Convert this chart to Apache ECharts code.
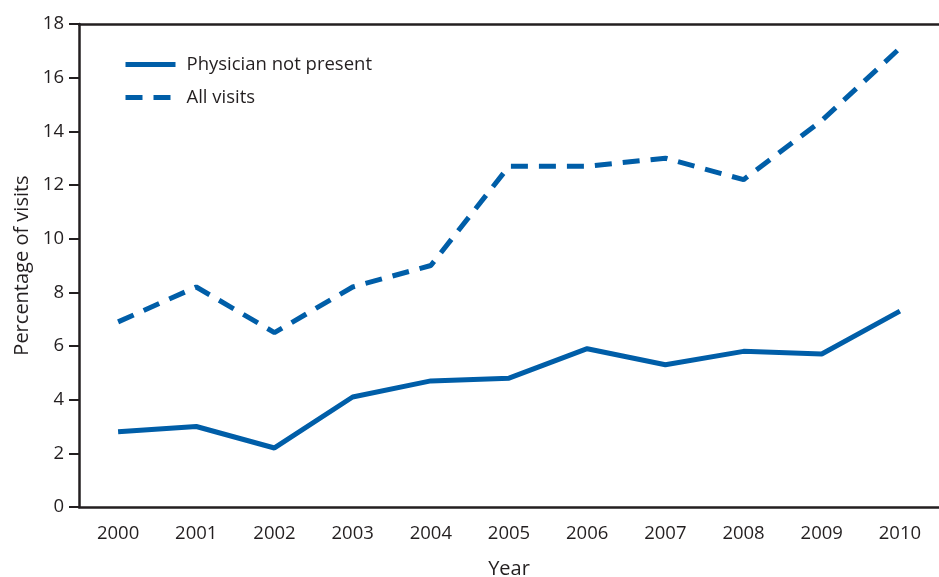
<!DOCTYPE html>
<html><head><meta charset="utf-8">
<script src="https://cdn.jsdelivr.net/npm/echarts@6/dist/echarts.min.js"></script>
<style>html,body{margin:0;padding:0;background:#fff}#c{width:939px;height:577px}</style>
</head><body><div id="c"></div>
<script>
const years = ['2000','2001','2002','2003','2004','2005','2006','2007','2008','2009','2010'];
const physicianNotPresent = [2.8, 3.0, 2.2, 4.1, 4.7, 4.8, 5.9, 5.3, 5.8, 5.7, 7.3];
const allVisits = [6.9, 8.2, 6.5, 8.2, 9.0, 12.7, 12.7, 13.0, 12.2, 14.4, 17.1];
const yTicks = [0, 2, 4, 6, 8, 10, 12, 14, 16, 18];

const FONT = '"Open Sans", "Noto Sans", sans-serif';
const BLUE = '#005ea8';
const AX = '#231f20';
const chart = echarts.init(document.getElementById('c'));
chart.setOption({
  animation: false,
  textStyle: {fontFamily: FONT},
  grid: {left: 79, right: 0, top: 24, bottom: 70, containLabel: false, outerBoundsMode: 'none'},
  legend: {
    left: 118, top: 45, orient: 'vertical', itemGap: 4,
    itemWidth: 50, itemHeight: 26,
    textStyle: {fontFamily: FONT, fontSize: 18.5, color: AX, padding: [0, 0, 0, 6], lineHeight: 29},
    itemStyle: {opacity: 0},
    lineStyle: {width: 5},
    data: ['Physician not present', 'All visits']
  },
  xAxis: [{
    type: 'category', data: years, boundaryGap: true,
    axisLine: {lineStyle: {color: AX, width: 2.5}},
    axisTick: {alignWithLabel: true, length: 10, lineStyle: {color: AX, width: 2}},
    axisLabel: {color: AX, fontSize: 18.5, margin: 17, fontFamily: FONT},
    name: 'Year', nameLocation: 'middle', nameGap: 52,
    nameTextStyle: {color: AX, fontSize: 20, fontFamily: FONT}
  }, {
    type: 'category', data: years, position: 'top',
    axisLine: {lineStyle: {color: AX, width: 2.5}},
    axisTick: {show: false}, axisLabel: {show: false}
  }],
  yAxis: {
    type: 'value', min: yTicks[0], max: yTicks[yTicks.length - 1], interval: 2,
    axisLine: {show: true, lineStyle: {color: AX, width: 2.5}},
    axisTick: {show: true, length: 10, lineStyle: {color: AX, width: 2}},
    splitLine: {show: false},
    axisLabel: {color: AX, fontSize: 18.5, margin: 15, fontFamily: FONT},
    name: 'Percentage of visits', nameLocation: 'middle', nameGap: 47,
    nameTextStyle: {color: AX, fontSize: 20, fontFamily: FONT}
  },
  series: [{
    name: 'Physician not present', type: 'line', data: physicianNotPresent,
    symbol: 'none', lineStyle: {color: BLUE, width: 5}, itemStyle: {color: BLUE}
  }, {
    name: 'All visits', type: 'line', data: allVisits,
    symbol: 'none', lineStyle: {color: BLUE, width: 5, type: [17, 11]}, itemStyle: {color: BLUE}
  }]
});
</script></body></html>
